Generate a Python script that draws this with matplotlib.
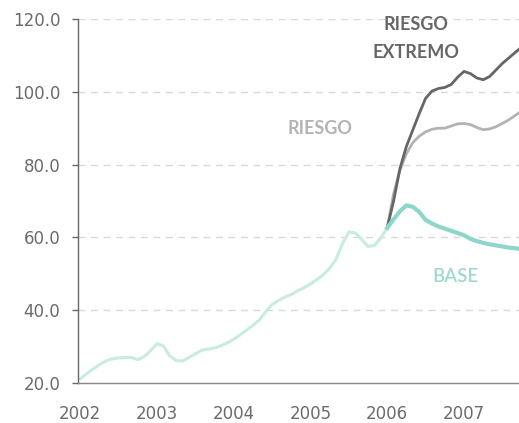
import matplotlib.pyplot as plt
import numpy as np

# monthly values, Jan 2002 .. Jan 2006 (historical)
hist = [21.1, 22.5, 23.8, 25.0, 26.0, 26.6, 26.9, 27.0, 27.0, 26.4, 27.2, 28.8,
        30.8, 30.2, 27.5, 26.2, 26.0, 27.0, 28.0, 29.0, 29.3, 29.6, 30.2, 31.0,
        32.0, 33.2, 34.5, 35.8, 37.3, 39.5, 41.5, 42.7, 43.6, 44.3, 45.3, 46.2,
        47.2, 48.4, 49.7, 51.5, 54.0, 58.2, 61.5, 61.2, 59.5, 57.5, 57.8, 59.8,
        62.6]

# scenarios from Jan 2006
base = [62.6, 65.0, 67.2, 68.8, 68.4, 67.0, 64.8, 63.8, 63.0, 62.4, 61.8, 61.2,
        60.6, 59.6, 59.0, 58.5, 58.1, 57.8, 57.5, 57.2, 57.0, 56.8]
riesgo = [62.6, 72.0, 78.5, 83.0, 86.0, 87.8, 89.0, 89.7, 90.0, 90.0, 90.6, 91.2,
          91.3, 91.0, 90.2, 89.6, 89.8, 90.4, 91.3, 92.3, 93.5, 94.7]
extremo = [62.6, 70.0, 79.0, 85.0, 89.5, 94.0, 98.2, 100.2, 100.9, 101.2, 102.0, 104.0,
           105.6, 105.0, 103.8, 103.3, 104.2, 106.0, 107.8, 109.3, 110.8, 112.3]

years = [2002, 2003, 2004, 2005, 2006, 2007]
yticks = [20, 40, 60, 80, 100, 120]

x_hist = 2002 + np.arange(len(hist)) / 12
x_fc = 2006 + np.arange(len(base)) / 12

fig = plt.figure(figsize=(5.19, 4.23), dpi=100)
ax = fig.add_axes([78 / 519, 40 / 423, 441 / 519, 364 / 423])

grid_c = '#d9d9d9'
for v in yticks[1:]:
    ax.axhline(v, color=grid_c, lw=1, ls=(0, (5, 4)), zorder=0)

ax.plot(x_hist, hist, color='#c8ebe2', lw=2.2, solid_capstyle='round')
ax.plot(x_fc, riesgo, color='#b3b3b3', lw=2.0)
ax.plot(x_fc, extremo, color='#666666', lw=2.0)
ax.plot(x_fc, base, color='#8ed6cb', lw=3.0)

ax.set_xlim(2002 - 2 / 76.8, 2002 + 441 / 76.8 - 2 / 76.8)
ax.set_ylim(20, 120)

ax.set_yticks(yticks)
ax.set_yticklabels([f'{v:.1f}' for v in yticks])
ax.set_xticks(years)
ax.set_xticklabels([str(y) for y in years])

ax.tick_params(axis='y', length=4.3, width=1, color='#666666', pad=8.5,
               labelsize=12, labelcolor='#6b6b6b')
ax.tick_params(axis='x', length=0, pad=16, labelsize=12, labelcolor='#6b6b6b')

for s in ['top', 'right']:
    ax.spines[s].set_visible(False)
ax.spines['left'].set_color('#666666')
ax.spines['bottom'].set_color('#888888')
ax.spines['left'].set_linewidth(1)
ax.spines['bottom'].set_linewidth(1)

lab = dict(fontsize=13, fontweight='bold', ha='center', va='center',
           family=['Lato', 'DejaVu Sans'])
ax.text(2002 + (416 - 80) / 76.8, 120 - (24 - 19) / 3.64, 'RIESGO', color='#666666', **lab)
ax.text(2002 + (416 - 80) / 76.8, 120 - (52 - 19) / 3.64, 'EXTREMO', color='#666666', **lab)
ax.text(2002 + (320 - 80) / 76.8, 120 - (129 - 19) / 3.64, 'RIESGO', color='#b3b3b3', **lab)
ax.text(2002 + (456 - 80) / 76.8, 120 - (276 - 19) / 3.64, 'BASE', color='#9fdad1',
        fontsize=13.5, fontweight='semibold', ha='center', va='center',
        family=['Lato', 'DejaVu Sans'])

fig.savefig('out.png', dpi=100)
